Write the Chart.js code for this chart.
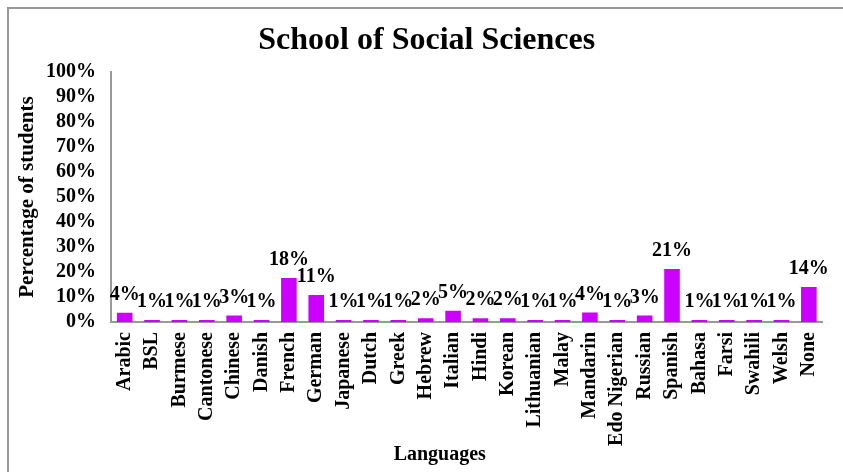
<!DOCTYPE html>
<html>
<head>
<meta charset="utf-8">
<script src="https://cdn.jsdelivr.net/npm/chart.js@4"></script>
<style>
    html, body { margin: 0; padding: 0; background: #fff; overflow: hidden; }
    #chart { display: block; }
</style>
</head>
<body>
<canvas id="chart" width="843" height="472"></canvas>
<script>
const languages = ['Arabic', 'BSL', 'Burmese', 'Cantonese', 'Chinese', 'Danish', 'French', 'German',
    'Japanese', 'Dutch', 'Greek', 'Hebrew', 'Italian', 'Hindi', 'Korean', 'Lithuanian', 'Malay',
    'Mandarin', 'Edo Nigerian', 'Russian', 'Spanish', 'Bahasa', 'Farsi', 'Swahili', 'Welsh', 'None'];
const percentages = [3.7, 0.8, 0.8, 0.8, 2.6, 0.8, 17.6, 10.8, 0.8, 0.8, 0.8, 1.5, 4.5, 1.5, 1.5,
    0.8, 0.8, 3.8, 0.8, 2.6, 21.2, 0.8, 0.8, 0.8, 0.8, 14];
const valueLabels = ['4%', '1%', '1%', '1%', '3%', '1%', '18%', '11%', '1%', '1%', '1%', '2%', '5%',
    '2%', '2%', '1%', '1%', '4%', '1%', '3%', '21%', '1%', '1%', '1%', '1%', '14%'];
const yTicks = [0, 10, 20, 30, 40, 50, 60, 70, 80, 90, 100];

const serif = '"Liberation Serif", "Times New Roman", serif';

// grey frame along the top and left edge, like the cropped chart object
const frame = {
    id: 'frame',
    beforeDraw(chart) {
        const ctx = chart.ctx;
        ctx.save();
        ctx.strokeStyle = '#999';
        ctx.lineWidth = 2;
        ctx.beginPath();
        ctx.moveTo(8, chart.height);
        ctx.lineTo(8, 8);
        ctx.lineTo(chart.width, 8);
        ctx.stroke();
        ctx.restore();
    }
};

// labels above each bar
const barLabels = {
    id: 'barLabels',
    afterDatasetsDraw(chart) {
        const ctx = chart.ctx;
        const meta = chart.getDatasetMeta(0);
        ctx.save();
        ctx.font = 'bold 20px ' + serif;
        ctx.fillStyle = '#000';
        ctx.textAlign = 'center';
        ctx.textBaseline = 'alphabetic';
        meta.data.forEach((bar, i) => {
            ctx.fillText(valueLabels[i], bar.x, bar.y - 13);
        });
        ctx.restore();
    }
};

// chart title and x axis title, both sit a little off the plot centre in the original
const titles = {
    id: 'titles',
    afterDraw(chart) {
        const ctx = chart.ctx;
        const area = chart.chartArea;
        const mid = (area.left + area.right) / 2;
        ctx.save();
        ctx.fillStyle = '#000';
        ctx.textAlign = 'center';
        ctx.textBaseline = 'middle';
        ctx.font = 'bold 32px ' + serif;
        ctx.fillText('School of Social Sciences', mid - 40, 41);
        ctx.font = 'bold 20px ' + serif;
        ctx.fillText('Languages', mid - 27, 455);
        ctx.restore();
    }
};

new Chart(document.getElementById('chart'), {
    type: 'bar',
    data: {
        labels: languages,
        datasets: [{
            data: percentages,
            backgroundColor: '#cc00ff',
            borderWidth: 0,
            barPercentage: 0.57,
            categoryPercentage: 1
        }]
    },
    options: {
        responsive: false,
        animation: false,
        layout: { padding: { left: 0, right: 8, top: 72, bottom: 0 } },
        plugins: {
            legend: { display: false },
            tooltip: { enabled: false },
            title: { display: false }
        },
        scales: {
            x: {
                grid: { display: false, drawTicks: false },
                border: { color: '#999', width: 2 },
                ticks: {
                    autoSkip: false,
                    minRotation: 90,
                    maxRotation: 90,
                    padding: 10,
                    color: '#000',
                    font: { family: serif, size: 20, weight: 'bold' }
                },
                afterFit(scale) { scale.height = 150; }
            },
            y: {
                min: 0,
                max: 100,
                afterBuildTicks(scale) { scale.ticks = yTicks.map(v => ({ value: v })); },
                grid: { display: false, drawTicks: false },
                border: { color: '#999', width: 2 },
                ticks: {
                    autoSkip: false,
                    padding: 15,
                    color: '#000',
                    font: { family: serif, size: 20, weight: 'bold' },
                    callback: v => v + '%'
                },
                title: {
                    display: true,
                    text: 'Percentage of students',
                    color: '#000',
                    font: { family: serif, size: 21, weight: 'bold' },
                    padding: { top: 15, bottom: 0 }
                },
                afterFit(scale) { scale.width = 111; }
            }
        }
    },
    plugins: [frame, barLabels, titles]
});
</script>
</body>
</html>
